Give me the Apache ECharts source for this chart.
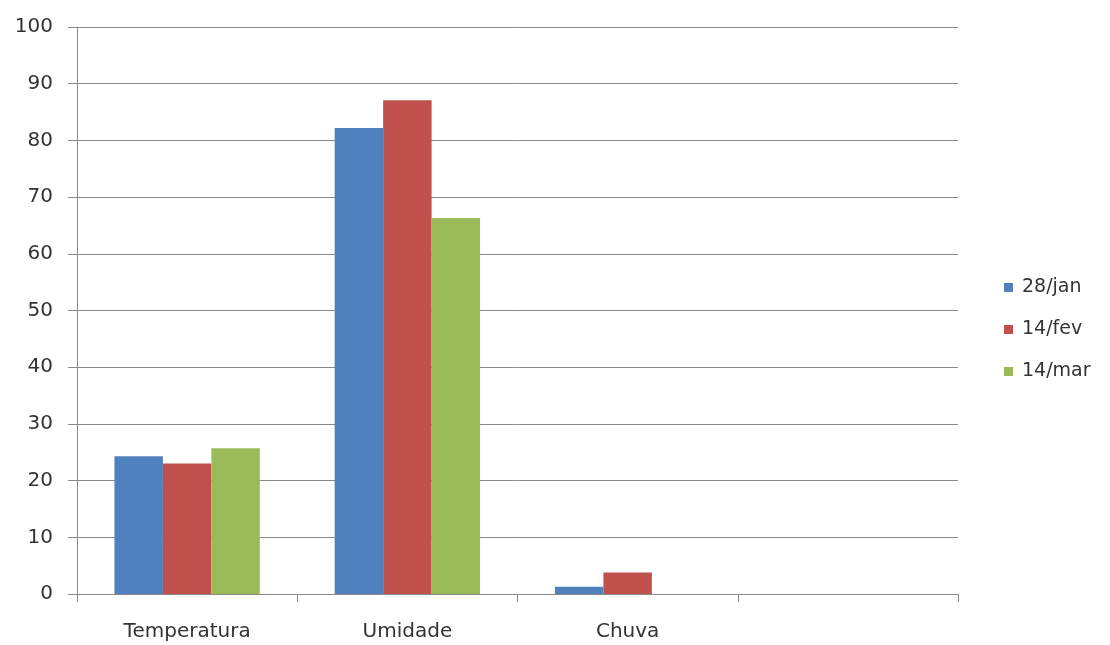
<!DOCTYPE html>
<html>
<head>
<meta charset="utf-8">
<script src="https://cdn.jsdelivr.net/npm/echarts@6/dist/echarts.min.js"></script>
<style>html,body{margin:0;padding:0;background:#fff;}#c{width:1110px;height:645px;}</style>
</head>
<body>
<div id="c"></div>
<script>
const categories = ['Temperatura', 'Umidade', 'Chuva', ''];
const seriesNames = ['28/jan', '14/fev', '14/mar'];
const jan28 = [24.3, 82.2, 1.3, null];
const fev14 = [23.0, 87.1, 3.8, null];
const mar14 = [25.7, 66.3, null, null];
const yTicks = { min: 0, max: 100, interval: 10 };
const colors = ['#4F81BD', '#C0504D', '#9BBB59'];

const font = 'DejaVu Sans';
const chart = echarts.init(document.getElementById('c'), null, { renderer: 'canvas' });
const values = [jan28, fev14, mar14];
chart.setOption({
  animation: false,
  backgroundColor: '#ffffff',
  color: colors,
  grid: { left: 77, right: 152, top: 27, bottom: 51, containLabel: false },
  legend: {
    orient: 'vertical',
    left: 999,
    top: 273,
    itemWidth: 9,
    itemHeight: 9,
    itemGap: 23,
    icon: 'rect',
    textStyle: { fontFamily: font, fontSize: 19, color: '#333', padding: [0, 0, 0, 4] },
    data: seriesNames
  },
  xAxis: {
    type: 'category',
    data: categories,
    axisLine: { show: true, lineStyle: { color: '#8a8a8a', width: 1 } },
    axisTick: { show: true, length: 8, lineStyle: { color: '#8a8a8a' } },
    axisLabel: { fontFamily: font, fontSize: 20, color: '#333', margin: 28 },
    splitLine: { show: false }
  },
  yAxis: {
    type: 'value',
    min: yTicks.min,
    max: yTicks.max,
    interval: yTicks.interval,
    axisLine: { show: true, lineStyle: { color: '#8a8a8a', width: 1 } },
    axisTick: { show: true, length: 9, lineStyle: { color: '#8a8a8a' } },
    axisLabel: { fontFamily: font, fontSize: 20, color: '#333', margin: 24 },
    splitLine: { show: true, lineStyle: { color: '#8a8a8a', width: 1 } }
  },
  series: seriesNames.map((n, i) => ({
    name: n,
    type: 'bar',
    data: values[i],
    barGap: '0%',
    barCategoryGap: '34%',
    itemStyle: { color: colors[i] }
  }))
});
</script>
</body>
</html>
